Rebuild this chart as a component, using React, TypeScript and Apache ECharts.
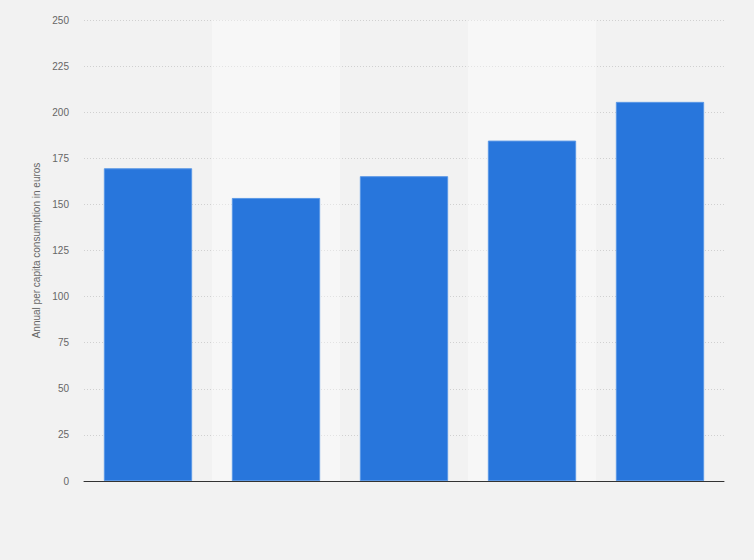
import * as echarts from "echarts";
import React, { useEffect, useRef } from "react";

const categories = ["2014", "2015", "2016", "2017", "2018"];
const consumption = [169.6, 153.5, 165.3, 184.6, 205.6];
const yTicks = [0, 25, 50, 75, 100, 125, 150, 175, 200, 225, 250];

export default function App() {
	const $chart = useRef<HTMLDivElement>(null);

	useEffect(() => {
		const chart = echarts.init($chart.current, null, { renderer: "svg" });
		chart.setOption({
			animation: false,
			backgroundColor: "#f2f2f2",
			textStyle: { fontFamily: "'Liberation Sans', Arial, sans-serif" },
			grid: { left: 84, right: 30, top: 20, bottom: 79 },
			xAxis: {
				type: "category",
				data: categories,
				axisLine: { lineStyle: { color: "#333", width: 1 } },
				axisTick: { show: false },
				axisLabel: { show: false },
				splitArea: {
					show: true,
					areaStyle: { color: ["rgba(0,0,0,0)", "rgba(255,255,255,0.4)"] },
				},
			},
			yAxis: {
				type: "value",
				min: yTicks[0],
				max: yTicks[yTicks.length - 1],
				interval: 25,
				name: "Annual per capita consumption in euros",
				nameLocation: "middle",
				nameGap: 42,
				nameTextStyle: { color: "#666", fontSize: 10 },
				axisLine: { show: false },
				axisTick: { show: false },
				axisLabel: { color: "#666", fontSize: 10, margin: 15 },
				splitLine: { lineStyle: { color: "#d0d0d0", type: [1, 2] } },
			},
			series: [
				{
					type: "bar",
					data: consumption,
					barCategoryGap: "31%",
					itemStyle: {
						color: "#2876dc",
						borderColor: "#5b98e6",
						borderWidth: 1,
					},
				},
			],
		});
		return () => chart.dispose();
	}, []);

	return (
		<div
			ref={$chart}
			style={{ position: "fixed", left: 0, top: 0, width: 754, height: 560 }}
		/>
	);
}
